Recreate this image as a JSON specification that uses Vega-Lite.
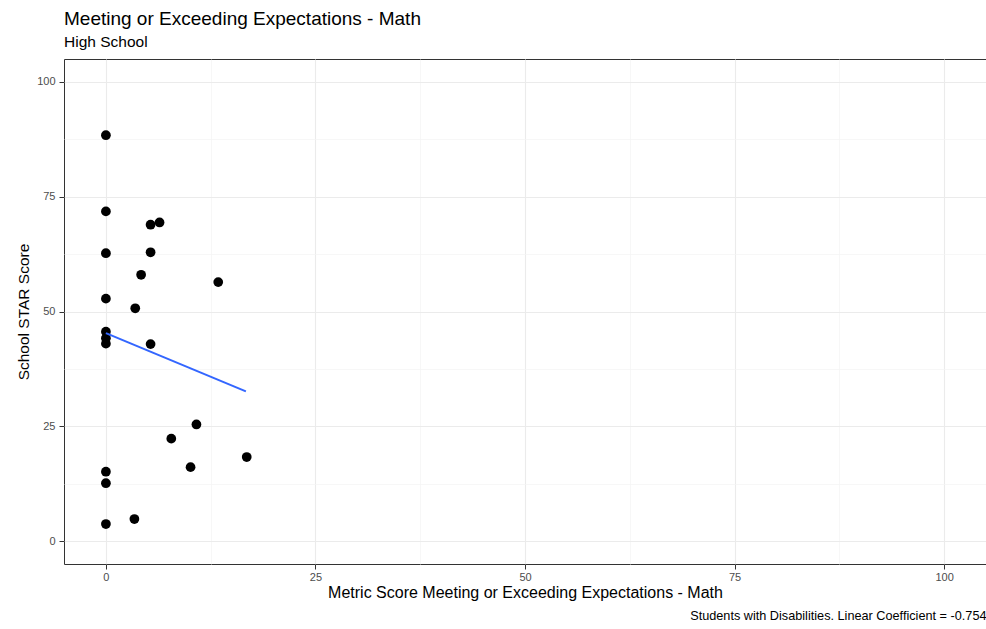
{
  "$schema": "https://vega.github.io/schema/vega-lite/v6.json",
  "autosize": {"type": "none"},
  "padding": {"left": 64, "top": 59, "right": 0, "bottom": 65},
  "width": 922,
  "height": 505,
  "background": "white",
  "config": {
    "font": "Liberation Sans",
    "view": {"stroke": "#333333", "strokeWidth": 1},
    "axis": {"domain": false}
  },
  "title": {
    "text": "Meeting or Exceeding Expectations - Math",
    "subtitle": "High School",
    "anchor": "start",
    "frame": "group",
    "fontSize": 19,
    "fontWeight": "normal",
    "color": "#000000",
    "subtitleFontSize": 15.5,
    "subtitleColor": "#000000",
    "subtitlePadding": 6,
    "offset": 9
  },
  "datasets": {
    "points": [
      {"metric": 0, "star": 88.4},
      {"metric": 0, "star": 71.8},
      {"metric": 0, "star": 62.7},
      {"metric": 0, "star": 52.8},
      {"metric": 0, "star": 45.6},
      {"metric": 0, "star": 44.2},
      {"metric": 0, "star": 43.0},
      {"metric": 0, "star": 15.1},
      {"metric": 0, "star": 12.6},
      {"metric": 0, "star": 3.7},
      {"metric": 5.33, "star": 68.9},
      {"metric": 6.4, "star": 69.4},
      {"metric": 5.33, "star": 62.9},
      {"metric": 4.2, "star": 58.0},
      {"metric": 13.4, "star": 56.4},
      {"metric": 3.5, "star": 50.7},
      {"metric": 5.33, "star": 42.9},
      {"metric": 10.8, "star": 25.4},
      {"metric": 7.8, "star": 22.3},
      {"metric": 10.1, "star": 16.1},
      {"metric": 16.8, "star": 18.3},
      {"metric": 3.4, "star": 4.8}
    ],
    "fit": [
      {"metric": 0, "star": 45.3},
      {"metric": 16.7, "star": 32.6}
    ]
  },
  "resolve": {"axis": {"x": "independent"}},
  "layer": [
    {
      "data": {"name": "points"},
      "mark": {"type": "circle", "size": 95, "color": "#000000", "opacity": 1},
      "encoding": {
        "x": {
          "field": "metric",
          "type": "quantitative",
          "scale": {"domain": [-5, 105], "nice": false, "zero": false},
          "axis": {
            "orient": "bottom",
            "title": "Metric Score Meeting or Exceeding Expectations - Math",
            "titleFontSize": 16,
            "titleFontWeight": "normal",
            "titleColor": "#000000",
            "titlePadding": 2,
            "values": [0, 12.5, 25, 37.5, 50, 62.5, 75, 87.5, 100],
            "labelExpr": "datum.value % 25 === 0 ? datum.label : ''",
            "labelFontSize": 11,
            "labelColor": "#4d4d4d",
            "labelPadding": 2,
            "tickSize": 5,
            "tickColor": "#333333",
            "tickOpacity": {"condition": {"test": "datum.value % 25 === 0", "value": 1}, "value": 0},
            "gridColor": {"condition": {"test": "datum.value % 25 === 0", "value": "#ebebeb"}, "value": "#f4f4f4"},
            "gridWidth": {"condition": {"test": "datum.value % 25 === 0", "value": 1.1}, "value": 0.7}
          }
        },
        "y": {
          "field": "star",
          "type": "quantitative",
          "scale": {"domain": [-5, 105], "nice": false, "zero": false},
          "axis": {
            "title": "School STAR Score",
            "titleFontSize": 15.5,
            "titleFontWeight": "normal",
            "titleColor": "#000000",
            "titlePadding": 5,
            "values": [0, 12.5, 25, 37.5, 50, 62.5, 75, 87.5, 100],
            "labelExpr": "datum.value % 25 === 0 ? datum.label : ''",
            "labelFontSize": 11,
            "labelColor": "#4d4d4d",
            "labelPadding": 4,
            "tickSize": 5,
            "tickColor": "#333333",
            "tickOpacity": {"condition": {"test": "datum.value % 25 === 0", "value": 1}, "value": 0},
            "gridColor": {"condition": {"test": "datum.value % 25 === 0", "value": "#ebebeb"}, "value": "#f4f4f4"},
            "gridWidth": {"condition": {"test": "datum.value % 25 === 0", "value": 1.1}, "value": 0.7}
          }
        }
      }
    },
    {
      "data": {"name": "fit"},
      "mark": {"type": "line", "color": "#3366FF", "strokeWidth": 2},
      "encoding": {
        "x": {
          "field": "metric",
          "type": "quantitative",
          "axis": {
            "orient": "bottom",
            "title": "Students with Disabilities. Linear Coefficient = -0.754",
            "titleFontSize": 12.7,
            "titleFontWeight": "normal",
            "titleColor": "#000000",
            "titleAnchor": "end",
            "titleAlign": "right",
            "titlePadding": 0,
            "labels": false,
            "ticks": false,
            "grid": false,
            "domain": false,
            "offset": 45
          }
        },
        "y": {"field": "star", "type": "quantitative"}
      }
    }
  ]
}
